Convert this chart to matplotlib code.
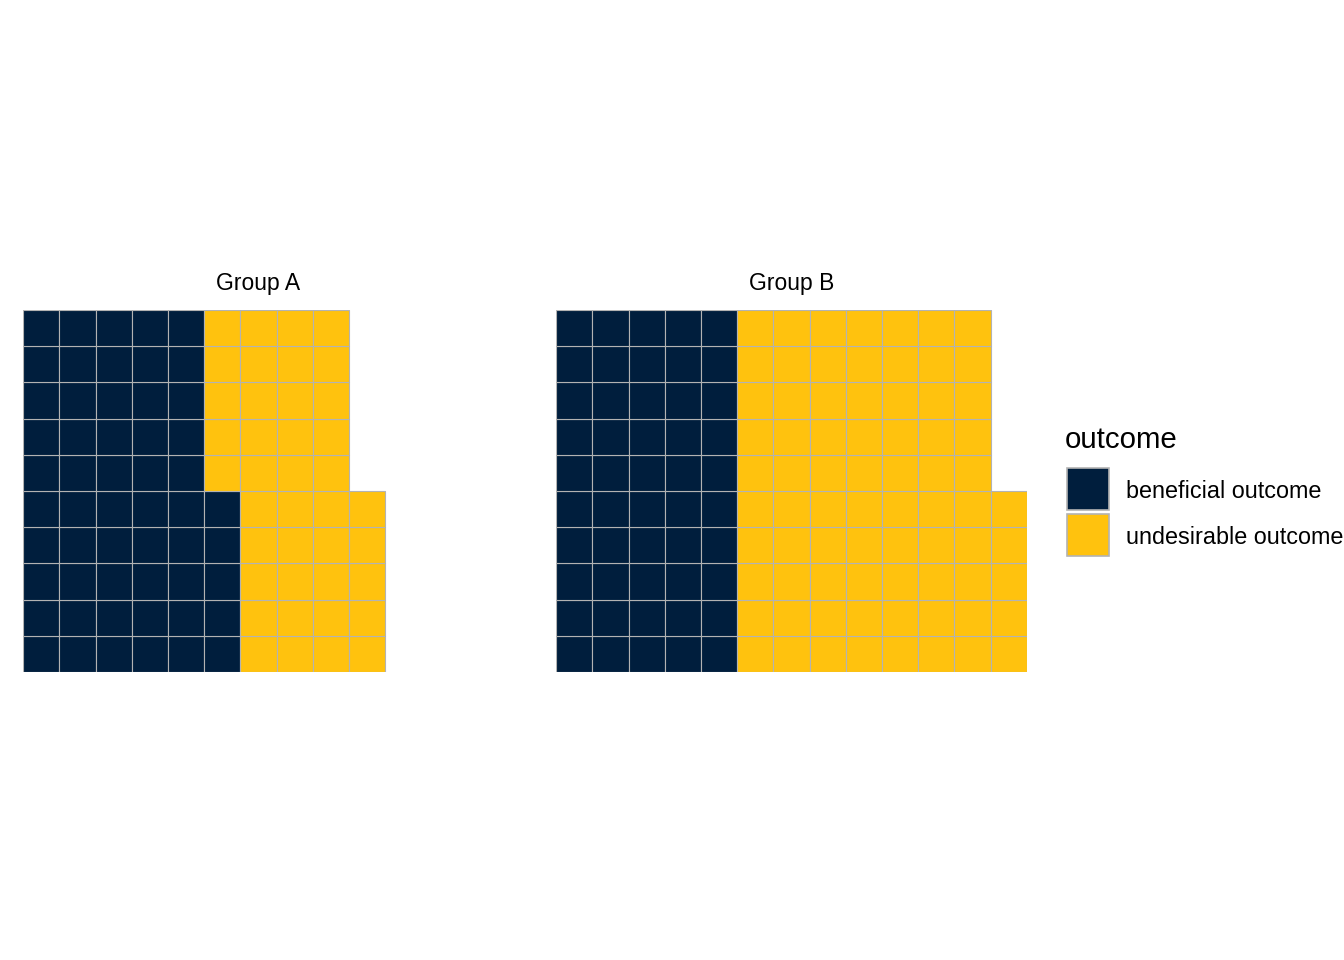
import numpy as np
import matplotlib
matplotlib.use('Agg')
import matplotlib.pyplot as plt
from matplotlib.patches import Rectangle

plt.rcParams['font.family'] = ['Liberation Sans', 'DejaVu Sans']

# waffle data: counts per group, 10 rows, filled column by column from bottom
groups = ['Group A', 'Group B']
beneficial = [55, 50]
undesirable = [40, 75]
outcomes = ['beneficial outcome', 'undesirable outcome']
colors = ['#001E3D', '#FFC20E']
n_rows = 10
n_cols = 13
edge = '#B3B3B3'

fig = plt.figure(figsize=(13.44, 9.6), dpi=100)
W, H = 1344.0, 960.0

panel_left = [23, 556]
panel_w = 471
panel_h = 362
panel_bottom = 672

for g, left in enumerate(panel_left):
    ax = fig.add_axes([left / W, (H - panel_bottom) / H, panel_w / W, panel_h / H])
    counts = [beneficial[g], undesirable[g]]
    idx = 0
    for k, c in enumerate(counts):
        cells = np.arange(idx, idx + c)
        cols = cells // n_rows
        rows = cells % n_rows
        ax.bar(cols + 0.5, 1, bottom=rows, width=1, color=colors[k],
               edgecolor=edge, linewidth=0.8)
        idx += c
    ax.set_xlim(0, n_cols)
    ax.set_ylim(0, n_rows)
    ax.set_aspect('equal')
    ax.axis('off')
    ax.text(0.5, 1.074, groups[g], transform=ax.transAxes, ha='center',
            va='center', fontsize=16.5)

# legend drawn by hand to get ggplot-like key sizes
fig.text(1065 / W, (H - 440) / H, 'outcome', fontsize=21.2, ha='left', va='center')
key = 42
for k, lab in enumerate(outcomes):
    top = 468 + k * 46
    fig.add_artist(Rectangle((1067 / W, (H - top - key) / H), key / W, key / H,
                             transform=fig.transFigure, facecolor=colors[k],
                             edgecolor=edge, linewidth=1.2))
    fig.text(1126 / W, (H - top - key / 2 - 2) / H, lab, fontsize=16.8,
             ha='left', va='center')

fig.savefig('out.png', dpi=100, facecolor='white')
